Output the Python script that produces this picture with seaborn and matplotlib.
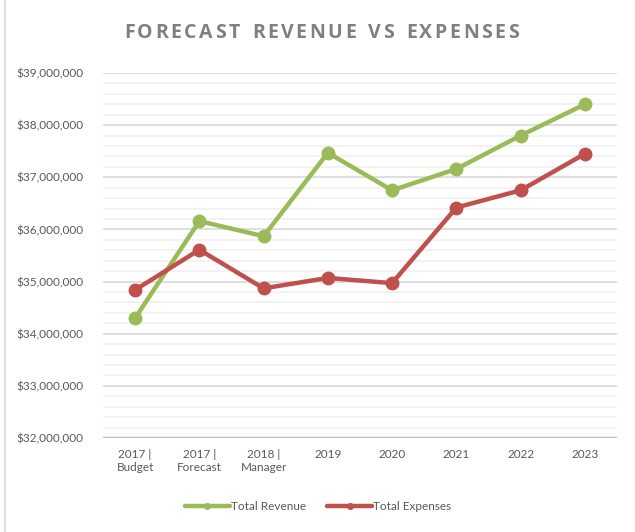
import numpy as np
import pandas as pd
import matplotlib
matplotlib.use("Agg")
import matplotlib.pyplot as plt
import matplotlib.ticker as mticker
from matplotlib.lines import Line2D
import seaborn as sns

# Data
periods = ["2017 |\nBudget", "2017 |\nForecast", "2018 |\nManager",
           "2019", "2020", "2021", "2022", "2023"]
total_revenue = [34300000, 36160000, 35870000, 37470000, 36750000, 37160000, 37800000, 38400000]
total_expenses = [34840000, 35610000, 34870000, 35070000, 34970000, 36420000, 36750000, 37450000]
series_names = ["Total Revenue", "Total Expenses"]

df = pd.DataFrame({
    "period": periods * 2,
    "value": total_revenue + total_expenses,
    "series": [series_names[0]] * len(periods) + [series_names[1]] * len(periods),
})

green = "#9BBB59"
red = "#C0504D"
tick_col = "#595959"

sns.set_theme(style="white")
plt.rcParams["font.family"] = ["Lato", "DejaVu Sans"]

fig = plt.figure(figsize=(6.35, 5.32), dpi=100)
ax = fig.add_axes([103 / 635, 1 - 438 / 532, 514 / 635, 365 / 532])

# gridlines: minor every 200k, major every 1M
for v in np.arange(32000000, 39000001, 200000):
    if v % 1000000 == 0:
        ax.axhline(v, color="#d9d9d9", lw=1.2, zorder=0)
    else:
        ax.axhline(v, color="#f0f0f0", lw=1.2, zorder=0)
ax.axhline(32000000, color="#bfbfbf", lw=2.5, zorder=1)

sns.lineplot(data=df, x="period", y="value", hue="series", palette=[green, red],
             marker="o", markersize=10, markeredgewidth=0, linewidth=3.2,
             sort=False, legend=False, ax=ax, zorder=3)

ax.set_xlim(-0.5, len(periods) - 0.5)
ax.set_ylim(32000000, 39000000)
ax.yaxis.set_major_locator(mticker.MultipleLocator(1000000))
ax.yaxis.set_major_formatter(mticker.FuncFormatter(lambda v, p: f"${v:,.0f}"))
ax.set_xlabel("")
ax.set_ylabel("")
ax.tick_params(axis="both", length=0, labelsize=8.5, labelcolor=tick_col)
ax.tick_params(axis="y", pad=14)
ax.tick_params(axis="x", pad=8)
for s in ax.spines.values():
    s.set_visible(False)

# title with wide letter spacing: measure each glyph, then spread evenly
title = "FORECAST REVENUE VS EXPENSES"
tkw = dict(fontsize=14, fontweight="bold", color="#808080",
           family=["Open Sans", "DejaVu Sans"], va="center", ha="left")
renderer = fig.canvas.get_renderer()
widths = []
for ch in title:
    t = fig.text(0, 0, ch if ch != " " else "n", **tkw)
    w = t.get_window_extent(renderer).width
    widths.append(w * 0.55 if ch == " " else w)
    t.remove()
left_px, right_px = 124, 519
gap = (right_px - left_px - sum(widths)) / (len(title) - 1)
x = left_px
for ch, w in zip(title, widths):
    if ch != " ":
        fig.text(x / 635, 1 - 33 / 532, ch, **tkw)
    x += w + gap

handles = [Line2D([0], [0], color=green, lw=3.2, marker="o", markersize=4),
           Line2D([0], [0], color=red, lw=3.2, marker="o", markersize=4)]
fig.legend(handles, series_names, loc="center", bbox_to_anchor=(318 / 635, 1 - 507 / 532),
           ncol=2, frameon=False, fontsize=8.5, handlelength=3.8, handletextpad=0.1,
           columnspacing=1.8, labelcolor=tick_col)

# left border of the chart frame
fig.add_artist(Line2D([5 / 635, 5 / 635], [0, 1], color="#d9d9d9", lw=1.2))

fig.savefig("out.png", dpi=100)
